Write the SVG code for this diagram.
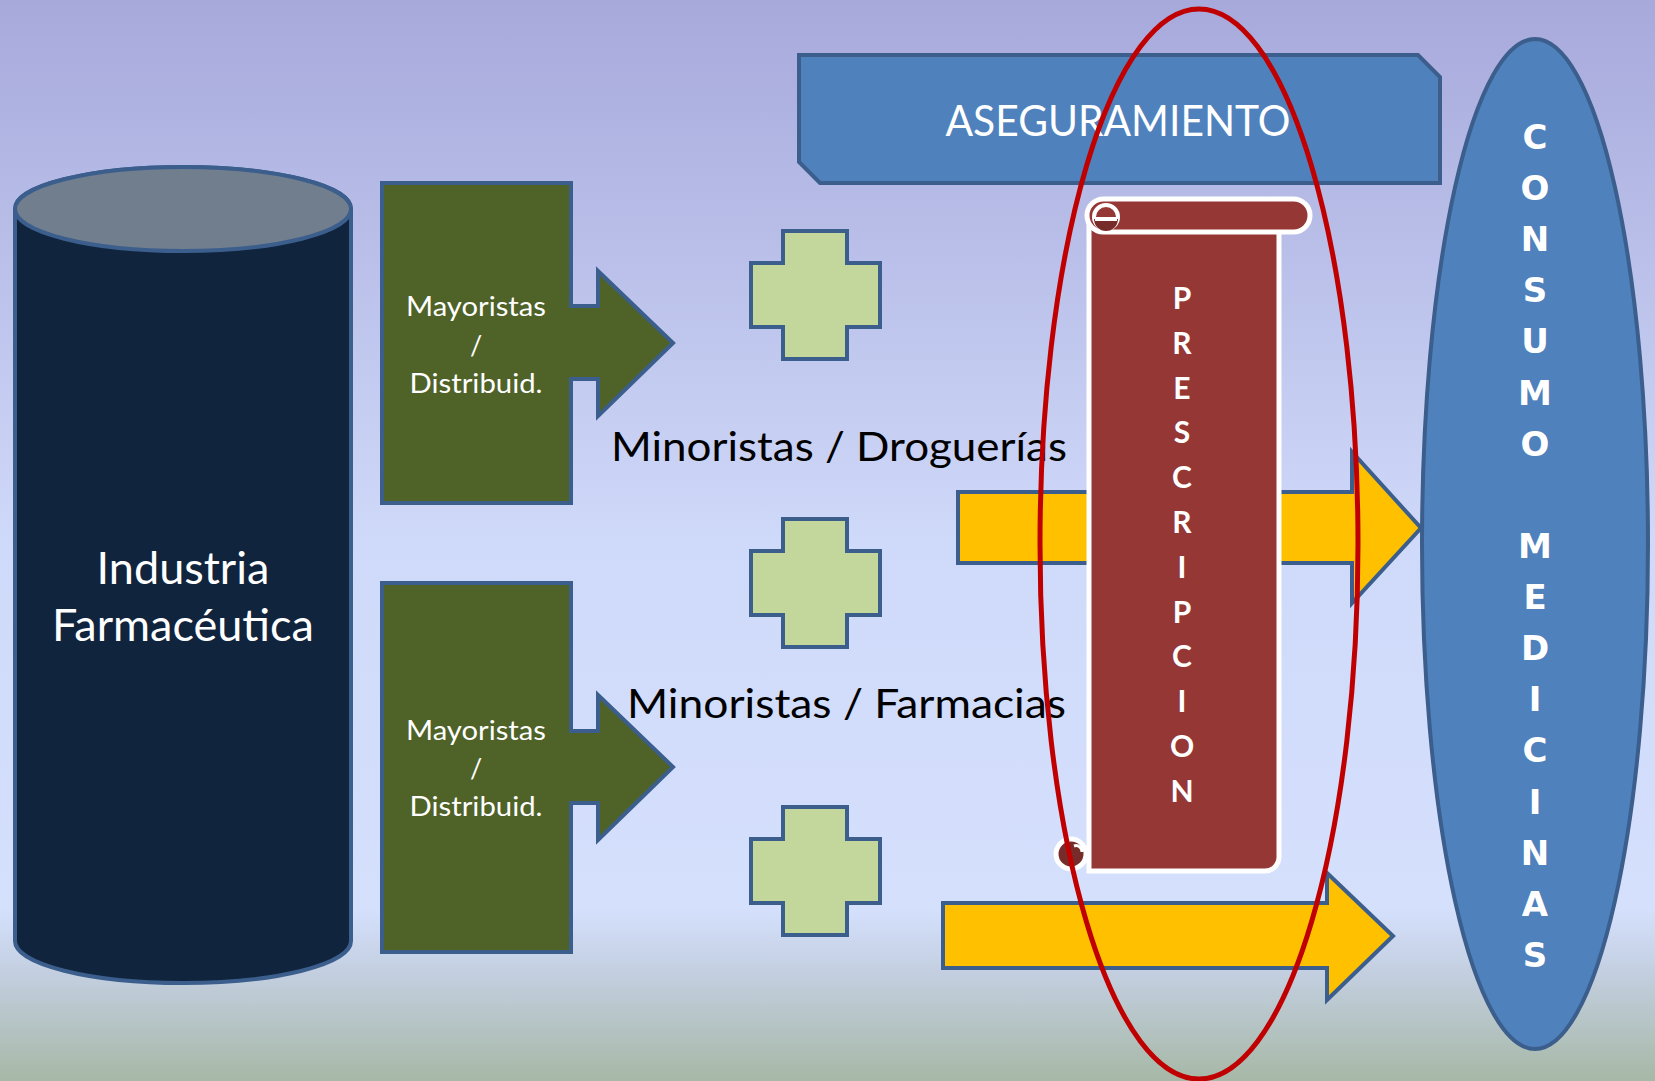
<svg xmlns="http://www.w3.org/2000/svg" width="1655" height="1081" viewBox="0 0 1655 1081">
<defs>
<linearGradient id="bg" x1="0" y1="0" x2="0" y2="1">
<stop offset="0" stop-color="#a7a9db"/>
<stop offset="0.5" stop-color="#cfd9f9"/>
<stop offset="0.84" stop-color="#d5e0fd"/>
<stop offset="0.9" stop-color="#c3cfe0"/>
<stop offset="1" stop-color="#a6b8a6"/>
</linearGradient>
<path id="cross" d="M783,0 H847 V32 H880 V96 H847 V128 H783 V96 H751 V32 H783 Z"/>
<path id="mayor" d="M382,0 H571 V123 H598 V88 L673,160 L598,233 V196 H571 V320 H382 Z"/>
<style>
.bl{stroke:#3b5e8c;stroke-width:4;stroke-linejoin:miter}
.grn{fill:#4f6228}
.crs{fill:#c3d69b}
.yel{fill:#ffc000}
.blu{fill:#4f81bd}
.w{fill:#ffffff;font-family:Lato,"Open Sans","Liberation Sans",sans-serif;text-anchor:middle}
.blk{fill:#000000;font-family:Lato,"Open Sans","Liberation Sans",sans-serif;font-size:41px}
.pres{fill:#ffffff;font-family:Lato,"Open Sans","Liberation Sans",sans-serif;font-weight:bold;font-size:30px;text-anchor:middle}
.cons{fill:#ffffff;font-family:"DejaVu Sans",Verdana,sans-serif;font-weight:bold;font-size:34px;text-anchor:middle}
</style>
</defs>
<rect x="0" y="0" width="1655" height="1081" fill="url(#bg)"/>

<g id="industria">
<path d="M15,209 V941 A168,42 0 0 0 351,941 V209 A168,42 0 0 0 15,209 Z" fill="#10243e" class="bl"/>
<ellipse cx="183" cy="209" rx="168" ry="42" fill="#717e8e" class="bl"/>
<text class="w" x="183" y="584" font-size="45">Industria</text>
<text class="w" x="183" y="641" font-size="45">Farmacéutica</text>
</g>

<g id="mayoristas1">
<use href="#mayor" y="183" class="grn bl"/>
<text class="w" x="476" y="316" font-size="27" textLength="140" lengthAdjust="spacingAndGlyphs">Mayoristas</text>
<text class="w" x="476" y="355" font-size="27">/</text>
<text class="w" x="476" y="393" font-size="27" textLength="133" lengthAdjust="spacingAndGlyphs">Distribuid.</text>
</g>

<g id="mayoristas2">
<path d="M382,583 H571 V731 H598 V695 L673,767 L598,840 V803 H571 V952 H382 Z" class="grn bl"/>
<text class="w" x="476" y="740" font-size="27" textLength="140" lengthAdjust="spacingAndGlyphs">Mayoristas</text>
<text class="w" x="476" y="778" font-size="27">/</text>
<text class="w" x="476" y="816" font-size="27" textLength="133" lengthAdjust="spacingAndGlyphs">Distribuid.</text>
</g>

<g id="cruz1"><use href="#cross" y="231" class="crs bl"/></g>
<g id="cruz2"><use href="#cross" y="519" class="crs bl"/></g>
<g id="cruz3"><use href="#cross" y="807" class="crs bl"/></g>

<g id="aseguramiento">
<path d="M799,55 H1418 L1440,77 V183 H820 L799,162 Z" class="blu bl"/>
<text class="w" x="1118" y="136" font-size="43" textLength="345" lengthAdjust="spacingAndGlyphs">ASEGURAMIENTO</text>
</g>

<g id="connectors">
<path d="M958,492 H1352 V452 L1421,528 L1352,603 V563 H958 Z" class="yel bl"/>
<path d="M943,903 H1327 V873 L1393,936 L1327,1000 V968 H943 Z" class="yel bl"/>
</g>

<g id="minoristas-droguerias">
<text class="blk" x="611" y="461" textLength="456" lengthAdjust="spacingAndGlyphs">Minoristas / Droguerías</text>
</g>
<g id="minoristas-farmacias">
<text class="blk" x="627" y="718" textLength="439" lengthAdjust="spacingAndGlyphs">Minoristas / Farmacias</text>
</g>

<g id="prescripcion">
<path d="M1089,216 H1279 V857 A14,14 0 0 1 1265,871 H1089 Z" fill="#953735" stroke="#ffffff" stroke-width="5"/>
<circle cx="1071" cy="854" r="15" fill="#772c2a" stroke="#ffffff" stroke-width="5"/>
<path d="M1074,846 A6,6 0 0 1 1082,852" fill="none" stroke="#ffffff" stroke-width="3"/>
<rect x="1087" y="199" width="223" height="33" rx="16.5" fill="#953735" stroke="#ffffff" stroke-width="5"/>
<circle cx="1106" cy="217" r="12" fill="#953735" stroke="#ffffff" stroke-width="4"/>
<path d="M1094,219 H1118 A12,12 0 0 1 1094,219 Z" fill="#772c2a"/>
<path d="M1095,219 H1117" stroke="#ffffff" stroke-width="4"/>
<text class="pres" x="1182" y="309">P</text>
<text class="pres" x="1182" y="354">R</text>
<text class="pres" x="1182" y="399">E</text>
<text class="pres" x="1182" y="443">S</text>
<text class="pres" x="1182" y="488">C</text>
<text class="pres" x="1182" y="533">R</text>
<text class="pres" x="1182" y="578">I</text>
<text class="pres" x="1182" y="623">P</text>
<text class="pres" x="1182" y="667">C</text>
<text class="pres" x="1182" y="712">I</text>
<text class="pres" x="1182" y="757">O</text>
<text class="pres" x="1182" y="802">N</text>
</g>

<g id="foco">
<ellipse cx="1199" cy="544" rx="159" ry="535" fill="none" stroke="#c00000" stroke-width="5"/>
</g>

<g id="consumo">
<ellipse cx="1535" cy="544" rx="113" ry="505" class="blu bl"/>
<text class="cons" x="1535" y="149">C</text>
<text class="cons" x="1535" y="200">O</text>
<text class="cons" x="1535" y="251">N</text>
<text class="cons" x="1535" y="302">S</text>
<text class="cons" x="1535" y="353">U</text>
<text class="cons" x="1535" y="405">M</text>
<text class="cons" x="1535" y="456">O</text>
<text class="cons" x="1535" y="558">M</text>
<text class="cons" x="1535" y="609">E</text>
<text class="cons" x="1535" y="660">D</text>
<text class="cons" x="1535" y="711">I</text>
<text class="cons" x="1535" y="762">C</text>
<text class="cons" x="1535" y="814">I</text>
<text class="cons" x="1535" y="865">N</text>
<text class="cons" x="1535" y="916">A</text>
<text class="cons" x="1535" y="967">S</text>
</g>
</svg>
